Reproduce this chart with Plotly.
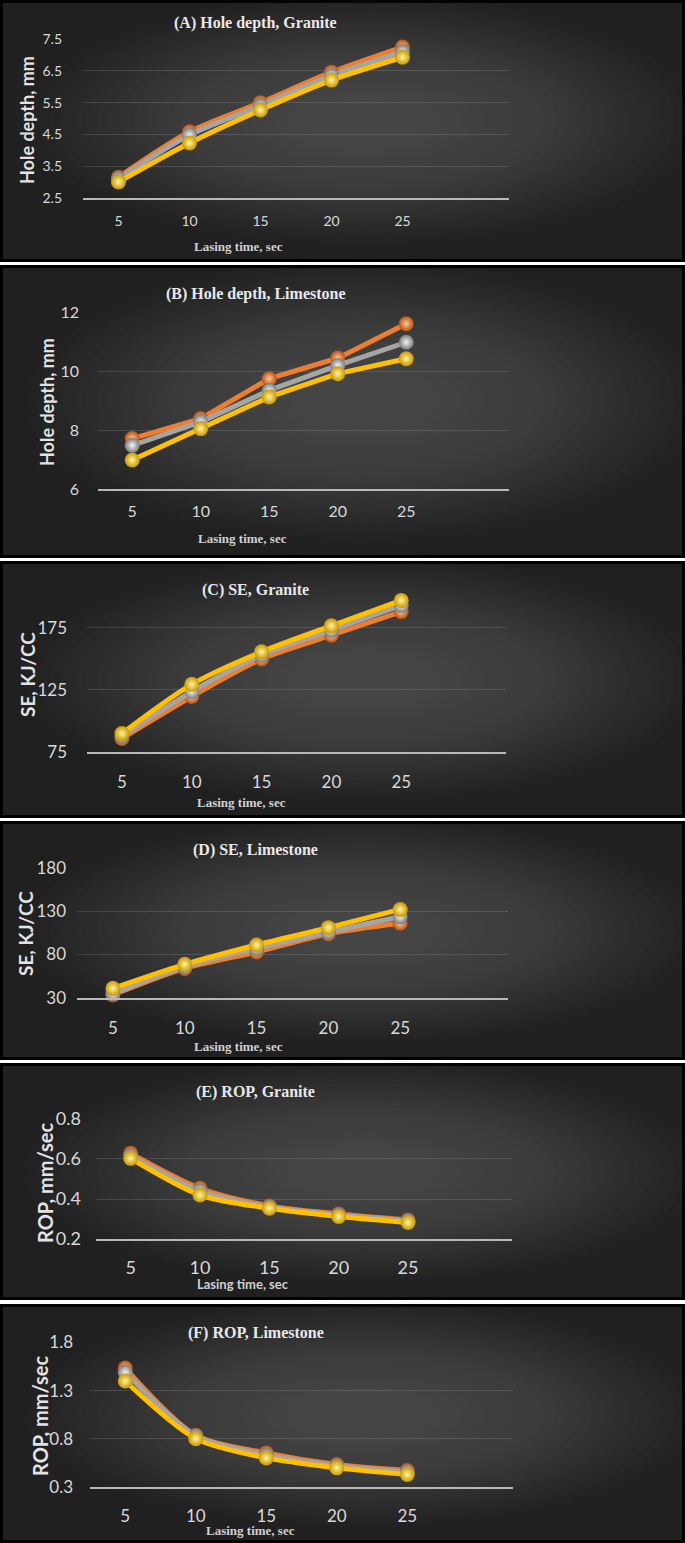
import plotly.graph_objects as go

W, H = 685, 1543

# ---------------- data ----------------
lasing_time = [5, 10, 15, 20, 25]

# (A) Hole depth, Granite (mm)
a_orange = [3.15, 4.58, 5.50, 6.46, 7.25]
a_gray = [3.10, 4.48, 5.40, 6.35, 7.10]
a_gold = [3.00, 4.23, 5.27, 6.21, 6.93]

# (B) Hole depth, Limestone (mm)
b_orange = [7.72, 8.40, 9.76, 10.46, 11.63]
b_gray = [7.49, 8.29, 9.36, 10.21, 11.00]
b_gold = [6.99, 8.06, 9.14, 9.93, 10.44]

# (C) SE, Granite (KJ/CC)
c_orange = [86, 119.7, 149.9, 169, 188]
c_gray = [88, 123.7, 153, 173, 193]
c_gold = [90, 129.5, 155.7, 176.6, 197]

# (D) SE, Limestone (KJ/CC)
d_orange = [33.5, 64, 83, 104, 116]
d_gray = [35, 66, 87, 106, 123.6]
d_gold = [41, 68.7, 91, 111, 132]

# (E) ROP, Granite (mm/sec)
e_orange = [0.628, 0.454, 0.366, 0.326, 0.296]
e_gray = [0.615, 0.440, 0.360, 0.320, 0.290]
e_gold = [0.603, 0.420, 0.354, 0.313, 0.283]

# (F) ROP, Limestone (mm/sec)
f_orange = [1.534, 0.838, 0.655, 0.534, 0.472]
f_gray = [1.490, 0.830, 0.630, 0.520, 0.455]
f_gold = [1.400, 0.803, 0.603, 0.500, 0.431]

# tick labels
a_yticks = [2.5, 3.5, 4.5, 5.5, 6.5, 7.5]
b_yticks = [6, 8, 10, 12]
c_yticks = [75, 125, 175]
d_yticks = [30, 80, 130, 180]
e_yticks = [0.2, 0.4, 0.6, 0.8]
f_yticks = [0.3, 0.8, 1.3, 1.8]

titles = ["(A) Hole depth, Granite", "(B) Hole depth, Limestone", "(C) SE, Granite",
          "(D) SE, Limestone", "(E) ROP, Granite", "(F) ROP, Limestone"]
y_titles = ["Hole depth, mm", "Hole depth, mm", "SE, KJ/CC", "SE, KJ/CC",
            "ROP, mm/sec", "ROP, mm/sec"]
x_title = "Lasing time, sec"

series_sets = [
    (a_orange, a_gray, a_gold),
    (b_orange, b_gray, b_gold),
    (c_orange, c_gray, c_gold),
    (d_orange, d_gray, d_gold),
    (e_orange, e_gray, e_gold),
    (f_orange, f_gray, f_gold),
]
ytick_sets = [a_yticks, b_yticks, c_yticks, d_yticks, e_yticks, f_yticks]

# ---------------- layout / style (pixel geometry) ----------------
def px(x):
    return x / W


def py(y):
    return 1 - y / H


panels = [
    dict(box=(0, 262), plot=(83, 509, 39, 198), yr=(2.5, 7.5), fmt=".1f", tfs=14, yst=20, xst=9,
         ytp=(27, 120), ytfs=18, xtp=(238, 247), xtfamily="Liberation Serif", xtfs=13, titley=23,
         shape="spline"),
    dict(box=(265, 558), plot=(98, 509, 312.7, 489.3), yr=(6, 12), fmt="d", tfs=16, yst=18, xst=6,
         ytp=(47, 402), ytfs=18, xtp=(243, 538), xtfamily="Liberation Serif", xtfs=13, titley=294,
         shape="linear"),
    dict(box=(561, 818), plot=(87, 506, 596.5, 752.3), yr=(75, 200), fmt="d", tfs=17, yst=19, xst=13,
         ytp=(27, 675), ytfs=19, xtp=(241, 803), xtfamily="Liberation Serif", xtfs=13, titley=590,
         shape="spline"),
    dict(box=(821, 1060), plot=(77, 508, 867.7, 998), yr=(30, 180), fmt="d", tfs=17, yst=10, xst=13,
         ytp=(25, 933), ytfs=19, xtp=(238, 1046), xtfamily="Liberation Serif", xtfs=13, titley=850,
         shape="spline"),
    dict(box=(1063, 1300), plot=(96, 512, 1118.7, 1239.3), yr=(0.2, 0.8), fmt=".1f", tfs=18, yst=14, xst=11,
         ytp=(45, 1183), ytfs=20, xtp=(243, 1284), xtfamily="Lato", xtfs=13, titley=1092,
         shape="spline"),
    dict(box=(1304, 1543), plot=(90, 513, 1342.3, 1487.3), yr=(0.3, 1.8), fmt=".1f", tfs=17, yst=16, xst=12,
         ytp=(40, 1416), ytfs=20, xtp=(250, 1530), xtfamily="Liberation Serif", xtfs=13, titley=1333,
         shape="spline"),
]

line_colors = ["#ED7D31", "#A5A5A5", "#FFC000"]
ball_edge = ["#b8520f", "#7a7a7a", "#c99700"]
ball_center = ["#ffc8a2", "#f5f5f5", "#fff59a"]

fig = go.Figure()
shapes = []
annotations = []
layout_axes = {}

for i, p in enumerate(panels):
    n = i + 1
    top, bot = p["box"]
    # panel background
    shapes.append(dict(type="rect", xref="paper", yref="paper", layer="below",
                       x0=px(1.5), x1=px(W - 1.5), y0=py(bot - 1.5), y1=py(top + 1.5),
                       fillcolor="#202020", line=dict(color="#000000", width=3)))
    cx = W * 0.53
    cy = (top + bot) / 2 - 10
    hw = W / 2 - 6
    hh = (bot - top) / 2 - 6
    steps = 24
    for k in range(steps):
        f = 1 - k / steps * 0.85
        shapes.append(dict(type="circle", xref="paper", yref="paper", layer="below",
                           x0=px(cx - hw * f), x1=px(cx + hw * f),
                           y0=py(cy + hh * f), y1=py(cy - hh * f),
                           fillcolor="#727272", opacity=0.035, line=dict(width=0)))

    x0p, x1p, y0p, y1p = p["plot"]
    xa = "xaxis" if n == 1 else f"xaxis{n}"
    ya = "yaxis" if n == 1 else f"yaxis{n}"
    xr = "x" if n == 1 else f"x{n}"
    yr = "y" if n == 1 else f"y{n}"
    lo, hi = p["yr"]
    eps = (hi - lo) * 0.001
    layout_axes[xa] = dict(domain=[px(x0p), px(x1p)], anchor=yr, range=[2.5, 32.5],
                           tickvals=lasing_time, showgrid=False, zeroline=False,
                           showline=True, linecolor="#b8b8b8", linewidth=2.2, ticks="",
                           ticklabelstandoff=p["xst"], automargin=False,
                           tickfont=dict(family="Lato", size=p["tfs"], color="#d9d9d9"),
                           fixedrange=True)
    layout_axes[ya] = dict(domain=[py(y1p), py(y0p)], anchor=xr, range=[lo - eps, hi + eps],
                           tickvals=ytick_sets[i], tickformat=p["fmt"], showgrid=True,
                           gridcolor="rgba(255,255,255,0.13)", gridwidth=1.3, zeroline=False,
                           showline=False, ticks="", ticklabelstandoff=p["yst"], automargin=False,
                           tickfont=dict(family="Lato", size=p["tfs"], color="#d9d9d9"),
                           fixedrange=True)

    for s, vals in enumerate(series_sets[i]):
        fig.add_trace(go.Scatter(
            x=lasing_time, y=vals, xaxis=xr, yaxis=yr, mode="lines+markers",
            line=dict(color=line_colors[s], width=5, shape=p["shape"], smoothing=0.8),
            marker=dict(size=15, color=ball_edge[s], line=dict(width=0),
                        gradient=dict(type="radial", color=ball_center[s])),
            cliponaxis=False, showlegend=False, hoverinfo="x+y"))

    annotations.append(dict(text="<b>" + titles[i] + "</b>", xref="paper", yref="paper",
                            x=px(256), y=py(p["titley"]), xanchor="center", yanchor="middle",
                            showarrow=False,
                            font=dict(family="Liberation Serif", size=16, color="#e8e8e8")))
    annotations.append(dict(text="<b>" + y_titles[i] + "</b>", xref="paper", yref="paper",
                            x=px(p["ytp"][0]), y=py(p["ytp"][1]), xanchor="center", yanchor="middle",
                            textangle=-90, showarrow=False,
                            font=dict(family="Lato", size=p["ytfs"], color="#e3e3e3")))
    annotations.append(dict(text="<b>" + x_title + "</b>", xref="paper", yref="paper",
                            x=px(p["xtp"][0]), y=py(p["xtp"][1]), xanchor="center", yanchor="middle",
                            showarrow=False,
                            font=dict(family=p["xtfamily"], size=p["xtfs"], color="#d0d0d0")))

fig.update_layout(
    width=W, height=H, autosize=False,
    margin=dict(l=0, r=0, t=0, b=0, pad=0, autoexpand=False),
    paper_bgcolor="#ffffff", plot_bgcolor="rgba(0,0,0,0)",
    shapes=shapes, annotations=annotations, showlegend=False,
    **layout_axes,
)

fig.write_html("out.html", config={"displayModeBar": False},
               post_script="document.body.style.margin='0';document.body.style.overflow='hidden';")
